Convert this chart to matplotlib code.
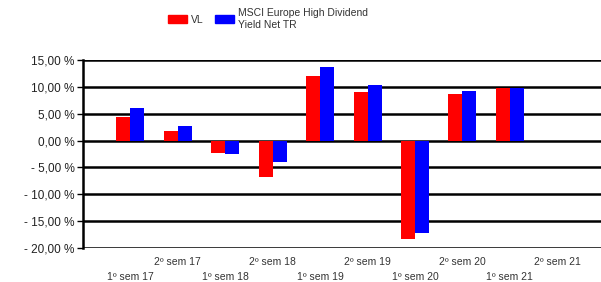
import numpy as np
import matplotlib
matplotlib.use("Agg")
import matplotlib.pyplot as plt
from matplotlib.patches import Patch

plt.rcParams['font.family'] = ['Liberation Sans', 'DejaVu Sans']

# semesters and returns (%)
categories = ['1º sem 17', '2º sem 17', '1º sem 18', '2º sem 18', '1º sem 19',
              '2º sem 19', '1º sem 20', '2º sem 20', '1º sem 21', '2º sem 21']
vl = [4.3, 1.85, -2.4, -6.85, 12.0, 9.0, -18.3, 8.6, 9.85, np.nan]
msci = [6.1, 2.7, -2.45, -4.0, 13.7, 10.4, -17.3, 9.2, 9.75, np.nan]
yticks = [15, 10, 5, 0, -5, -10, -15, -20]

fig = plt.figure(figsize=(6.01, 2.82), dpi=100)
ax = fig.add_axes([83/601, 34/282, 518/601, 188/282])

x = np.arange(len(categories))
w = 0.295
ax.bar(x - w/2, vl, w, color='#ff0000', zorder=3)
ax.bar(x + w/2, msci, w, color='#0000ff', zorder=3)

ax.set_xlim(-1, 9.92)
ax.set_ylim(-20, 15)
ax.set_yticks(yticks)

def fmt(v):
    s = f"{abs(v):.2f}".replace('.', ',') + " %"
    return ("- " + s) if v < 0 else s

ax.set_yticklabels([fmt(v) for v in yticks], fontsize=8.5, color='#222222')
for v in yticks:
    ax.axhline(v, color='black', lw=1.8, zorder=2)

for s in ['top', 'right', 'bottom']:
    ax.spines[s].set_visible(False)
ax.spines['left'].set_linewidth(1.8)
ax.tick_params(axis='y', length=4, width=1, pad=2)
ax.set_xticks([])

# alternating two-row category labels
for i, c in enumerate(categories):
    ypos = -0.075 if i % 2 == 1 else -0.155
    ax.text(x[i], ypos, c, transform=ax.get_xaxis_transform(), ha='center',
            va='center', fontsize=7.5, color='#333333')

handles = [Patch(color='#ff0000'), Patch(color='#0000ff')]
fig.legend(handles, ['VL', 'MSCI Europe High Dividend\nYield Net TR'],
           loc='upper left', bbox_to_anchor=(159/601, 1.004), ncol=2, frameon=False,
           fontsize=7.5, labelcolor='#333333', handlelength=1.8, handleheight=0.8,
           columnspacing=1.05, handletextpad=0.4)

fig.savefig('out.png', dpi=100)
